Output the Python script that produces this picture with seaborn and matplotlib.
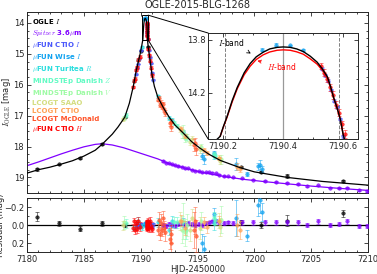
import numpy as np
import matplotlib
matplotlib.use("Agg")
import matplotlib.pyplot as plt
import seaborn as sns
from matplotlib.lines import Line2D
from matplotlib.patches import Rectangle, ConnectionPatch
from matplotlib.ticker import MultipleLocator

# ---- model curves ----
model_i_t = [7180.0, 7181.0, 7182.0, 7183.0, 7184.0, 7185.0, 7186.0, 7186.6, 7187.5, 7188.0,
             7188.6, 7189.0, 7189.35, 7189.6, 7189.95, 7190.1, 7190.19, 7190.2, 7190.213, 7190.23,
             7190.247, 7190.27, 7190.29, 7190.31, 7190.333, 7190.355, 7190.38, 7190.4, 7190.423, 7190.445,
             7190.467, 7190.49, 7190.513, 7190.53, 7190.547, 7190.557, 7190.567, 7190.58, 7190.59, 7190.6,
             7190.61, 7190.65, 7190.8, 7191.0, 7191.2, 7191.5, 7192.0, 7192.5, 7193.0, 7193.7,
             7194.5, 7195.2, 7196.0, 7197.0, 7198.7, 7200.0, 7202.9, 7206.0, 7210.0]
model_i_mag = [18.86, 18.75, 18.67, 18.57, 18.46, 18.31, 18.12, 17.93, 17.6, 17.37,
               17.05, 16.6, 16.05, 15.55, 15.0, 14.72, 14.53, 14.46, 14.38, 14.26,
               14.16, 14.05, 13.98, 13.93, 13.895, 13.87, 13.858, 13.855, 13.858, 13.87,
               13.89, 13.925, 13.97, 14.02, 14.08, 14.15, 14.23, 14.32, 14.4, 14.52,
               14.6, 14.75, 15.15, 15.7, 16.05, 16.4, 16.75, 17.05, 17.3, 17.55,
               17.85, 18.05, 18.25, 18.45, 18.68, 18.82, 19.0, 19.13, 19.25]

model_h_t = [7190.19, 7190.2, 7190.213, 7190.23, 7190.247, 7190.27, 7190.29, 7190.31, 7190.333, 7190.355,
             7190.38, 7190.4, 7190.423, 7190.445, 7190.467, 7190.49, 7190.513, 7190.53, 7190.547, 7190.557,
             7190.567, 7190.58, 7190.59, 7190.6]
model_h_mag = [14.53, 14.465, 14.385, 14.27, 14.17, 14.065, 14.0, 13.95, 13.915, 13.893,
               13.88, 13.877, 13.88, 13.892, 13.91, 13.945, 13.985, 14.03, 14.09, 14.155,
               14.235, 14.32, 14.4, 14.52]

spz_model_t = [7180.0, 7181.0, 7182.0, 7183.0, 7184.0, 7185.0, 7186.0, 7186.6, 7187.5, 7188.5,
               7189.5, 7190.5, 7191.5, 7192.5, 7193.5, 7194.5, 7195.5, 7197.0, 7199.0, 7201.0,
               7203.0, 7205.0, 7207.0, 7210.0]
spz_model_mag = [18.62, 18.5, 18.37, 18.24, 18.12, 18.01, 17.93, 17.91, 17.95, 18.04,
                 18.16, 18.28, 18.4, 18.55, 18.66, 18.76, 18.84, 18.95, 19.06, 19.14,
                 19.21, 19.28, 19.34, 19.42]

# ---- photometry: time, magnitude, error, residual ----
ogle_t = [7180.9, 7182.8, 7184.65, 7186.6, 7188.6, 7190.0, 7190.65, 7198.8, 7200.6, 7202.85, 7207.75]
ogle_mag = [18.74, 18.58, 18.38, 17.91, 17.06, 14.9, 14.77, 18.66, 18.83, 18.96, 19.12]
ogle_err = [0.05, 0.03, 0.03, 0.025, 0.02, 0.01, 0.01, 0.03, 0.03, 0.06, 0.04]
ogle_res = [-0.09, -0.02, 0.04, -0.02, 0.0, 0.0, 0.01, -0.03, 0.0, -0.05, -0.13]

spz_t = [7192.0, 7192.25, 7192.5, 7192.75, 7193.0, 7193.3, 7193.6, 7193.9, 7194.2, 7194.5,
         7194.8, 7195.1, 7195.4, 7195.7, 7196.0, 7196.3, 7196.6, 7196.9, 7197.3, 7197.7,
         7198.1, 7198.9, 7199.9, 7200.9, 7201.9, 7202.9, 7203.8, 7204.6, 7205.6, 7206.6,
         7207.4, 7208.1, 7209.2, 7209.9]
spz_mag = [18.47, 18.52, 18.54, 18.58, 18.61, 18.63, 18.65, 18.70, 18.71, 18.75,
           18.78, 18.80, 18.83, 18.83, 18.84, 18.86, 18.87, 18.91, 18.95, 18.96,
           18.99, 19.03, 19.07, 19.11, 19.14, 19.18, 19.21, 19.27, 19.26, 19.33,
           19.34, 19.33, 19.41, 19.43]
spz_err = [0.02] * 21 + [0.025] * 13
spz_res = [0.0, 0.01, -0.01, 0.0, 0.01, -0.01, -0.02, 0.0, -0.02, -0.01,
           0.0, -0.01, 0.0, -0.02, -0.03, -0.04, -0.05, -0.03, -0.02, -0.03,
           -0.02, -0.03, -0.03, -0.03, -0.03, -0.03, -0.03, 0.0, -0.04, 0.0,
           -0.01, -0.04, 0.01, 0.01]

ctioi_t = [7189.55, 7189.65, 7189.75, 7189.85, 7190.0, 7190.53, 7190.54, 7190.55, 7190.56, 7190.57,
           7190.58, 7190.59, 7190.6, 7190.7, 7190.78, 7190.86, 7190.95, 7191.05]
ctioi_mag = [15.66, 15.46, 15.33, 15.16, 14.89, 14.02, 14.07, 14.11, 14.18, 14.26,
             14.31, 14.4, 14.53, 14.88, 15.11, 15.3, 15.62, 15.84]
ctioi_err = [0.015] * 5 + [0.01] * 8 + [0.015] * 5
ctioi_res = [0.01, -0.01, 0.02, 0.0, -0.01, 0.0, 0.01, -0.01, 0.0, 0.01,
             -0.01, 0.0, 0.01, -0.02, 0.01, 0.0, 0.02, -0.01]

wise_t = [7190.33, 7190.377, 7190.423, 7190.467, 7193.7, 7195.38, 7195.55, 7196.4, 7198.35, 7199.35,
          7200.35, 7200.5, 7200.62]
wise_mag = [13.875, 13.838, 13.843, 13.88, 17.52, 18.3, 18.41, 18.21, 18.56, 18.9,
            18.64, 18.59, 18.73]
wise_err = [0.01, 0.012, 0.006, 0.008, 0.05, 0.1, 0.15, 0.07, 0.2, 0.06, 0.12, 0.15, 0.1]
wise_res = [0.0, -0.02, -0.02, -0.01, -0.03, 0.2, 0.27, -0.12, -0.08, 0.12, -0.22, -0.28, -0.15]

tur_t = [7189.45, 7189.8, 7190.08, 7191.5, 7192.45, 7192.75, 7196.45]
tur_mag = [15.88, 15.2, 14.78, 16.37, 17.08, 17.13, 18.32]
tur_err = [0.03, 0.04, 0.03, 0.05, 0.06, 0.06, 0.08]
tur_res = [0.03, -0.05, 0.02, -0.03, 0.05, -0.04, -0.02]

danz_t = [7188.7, 7192.95, 7193.15, 7194.0, 7196.4, 7196.55]
danz_mag = [16.98, 17.25, 17.32, 17.7, 18.25, 18.3]
danz_err = [0.05, 0.06, 0.06, 0.1, 0.07, 0.06]
danz_res = [-0.02, -0.03, -0.03, 0.05, -0.08, -0.06]

danv_t = [7188.5, 7193.6, 7193.75, 7193.9, 7194.1, 7195.3, 7197.1]
danv_mag = [17.07, 17.57, 17.51, 17.71, 17.7, 18.03, 18.41]
danv_err = [0.07, 0.15, 0.2, 0.15, 0.12, 0.1, 0.15]
danv_res = [-0.03, 0.05, -0.05, 0.08, 0.0, -0.05, -0.06]

saao_t = [7188.45, 7193.45, 7194.3, 7194.5, 7195.2, 7196.85, 7197.0]
saao_mag = [17.12, 17.42, 17.84, 17.77, 18.08, 18.37, 18.47]
saao_err = [0.05, 0.1, 0.12, 0.1, 0.12, 0.08, 0.1]
saao_res = [0.0, -0.04, 0.06, -0.08, 0.03, -0.05, 0.02]

lctio_t = [7193.55, 7193.9, 7195.6, 7195.8, 7196.9, 7198.5, 7198.7]
lctio_mag = [17.44, 17.66, 18.12, 18.22, 18.38, 18.65, 18.73]
lctio_err = [0.06, 0.08, 0.06, 0.07, 0.05, 0.12, 0.1]
lctio_res = [-0.05, 0.03, -0.03, 0.02, -0.05, 0.0, 0.05]

mcd_t = [7191.55, 7191.65, 7191.72, 7191.8, 7191.88, 7191.95, 7192.05, 7192.15, 7192.55, 7192.62,
         7192.7, 7194.7, 7194.8, 7194.9]
mcd_mag = [16.48, 16.44, 16.65, 16.58, 16.72, 16.64, 16.81, 16.92, 17.23, 17.22,
           17.36, 17.96, 17.89, 18.09]
mcd_err = [0.06, 0.08, 0.07, 0.1, 0.06, 0.08, 0.07, 0.1, 0.12, 0.1, 0.15, 0.2, 0.15, 0.18]
mcd_res = [0.05, -0.06, 0.1, -0.02, 0.06, -0.08, 0.03, 0.08, 0.15, 0.1, 0.2, 0.05, -0.05, 0.12]

ctioh_t = [7189.35, 7189.42, 7189.5, 7189.6, 7189.7, 7189.8, 7189.9, 7190.525, 7190.535, 7190.545,
           7190.555, 7190.565, 7190.575, 7190.585, 7190.595, 7190.605, 7190.68, 7190.75, 7190.82, 7190.9,
           7190.98]
ctioh_mag = [16.08, 15.87, 15.8, 15.53, 15.44, 15.19, 15.1, 14.0, 14.05, 14.1,
             14.16, 14.22, 14.29, 14.35, 14.44, 14.51, 14.85, 15.05, 15.22, 15.45,
             15.7]
ctioh_err = [0.04, 0.04, 0.05, 0.04, 0.05, 0.04, 0.05, 0.025, 0.025, 0.02,
             0.025, 0.03, 0.025, 0.03, 0.025, 0.03, 0.04, 0.05, 0.04, 0.05,
             0.04]
ctioh_res = [0.03, -0.04, 0.05, -0.02, 0.04, -0.05, 0.02, -0.03, 0.02, -0.04,
             0.01, 0.03, -0.02, 0.04, -0.01, 0.02, -0.04, 0.03, -0.05, 0.02,
             0.04]

labels = ["OGLE $I$", "$Spitzer$ 3.6$\\mu$m", "$\\mu$FUN CTIO $I$", "$\\mu$FUN Wise $I$",
          "$\\mu$FUN Turitea $R$", "MiNDSTEp Danish $Z$", "MiNDSTEp Danish $V$",
          "LCOGT SAAO", "LCOGT CTIO", "LCOGT McDonald", "$\\mu$FUN CTIO $H$"]

sns.set_style("ticks")
plt.rcParams["mathtext.fontset"] = "cm"
plt.rcParams["xtick.direction"] = "in"
plt.rcParams["ytick.direction"] = "in"

colors = ["black"] + [tuple(c) for c in plt.cm.rainbow(np.linspace(0, 1, 10))]

data = [
    (ogle_t, ogle_mag, ogle_err, ogle_res),
    (spz_t, spz_mag, spz_err, spz_res),
    (ctioi_t, ctioi_mag, ctioi_err, ctioi_res),
    (wise_t, wise_mag, wise_err, wise_res),
    (tur_t, tur_mag, tur_err, tur_res),
    (danz_t, danz_mag, danz_err, danz_res),
    (danv_t, danv_mag, danv_err, danv_res),
    (saao_t, saao_mag, saao_err, saao_res),
    (lctio_t, lctio_mag, lctio_err, lctio_res),
    (mcd_t, mcd_mag, mcd_err, mcd_res),
    (ctioh_t, ctioh_mag, ctioh_err, ctioh_res),
]

fig = plt.figure(figsize=(3.77, 2.74), dpi=100)
ax = fig.add_axes([0.0716, 0.296, 0.905, 0.66])
axr = fig.add_axes([0.0716, 0.08, 0.905, 0.197])
axins = ax.inset_axes([0.531, 0.298, 0.44, 0.586])


def points(a, t, y, e, c, ms=2.0):
    a.errorbar(t, y, yerr=e, fmt="none", ecolor=c, elinewidth=0.6,
               capsize=1.2, capthick=0.6, alpha=0.6, zorder=3)
    sns.scatterplot(x=t, y=y, color=c, s=ms ** 2 * 1.6, edgecolor=c,
                    linewidth=0.4, alpha=0.75, ax=a, zorder=3, legend=False)


for (t, m, e, r), c in zip(data, colors):
    points(ax, t, m, e, c)
    points(axins, t, m, e, c)
    points(axr, t, r, e, c)

sns.lineplot(x=model_i_t, y=model_i_mag, color="black", lw=0.9, ax=ax,
             estimator=None, sort=False, zorder=4)
sns.lineplot(x=spz_model_t, y=spz_model_mag, color=colors[1], lw=0.9, ax=ax,
             estimator=None, sort=False, zorder=2)
sns.lineplot(x=model_h_t, y=model_h_mag, color="red", lw=1.0, ax=axins,
             estimator=None, sort=False, zorder=4)
sns.lineplot(x=model_i_t, y=model_i_mag, color="black", lw=1.0, ax=axins,
             estimator=None, sort=False, zorder=5)

# main panel
ax.set_xlim(7180, 7210)
ax.set_ylim(19.5, 13.65)
ax.set_yticks([14, 15, 16, 17, 18, 19])
ax.xaxis.set_major_locator(MultipleLocator(5))
ax.xaxis.set_minor_locator(MultipleLocator(1))
ax.yaxis.set_minor_locator(MultipleLocator(0.25))
ax.tick_params(labelbottom=False)
ax.set_ylabel("$I_{\\rm OGLE}$ [mag]", fontsize=6)
ax.yaxis.set_label_coords(-0.04, 0.5)
ax.set_title("OGLE-2015-BLG-1268", fontsize=7, pad=3)

# residuals
axr.axhline(0, color="black", lw=0.9, zorder=2)
axr.set_xlim(7180, 7210)
axr.set_ylim(0.3, -0.3)
axr.set_yticks([-0.2, 0.0, 0.2])
axr.xaxis.set_major_locator(MultipleLocator(5))
axr.xaxis.set_minor_locator(MultipleLocator(1))
axr.yaxis.set_minor_locator(MultipleLocator(0.1))
axr.set_xlabel("HJD-2450000", fontsize=6, labelpad=0.5)
axr.set_ylabel("Residual (mag)", fontsize=6)
axr.yaxis.set_label_coords(-0.064, 0.5)

# inset
axins.set_xlim(7190.15, 7190.65)
axins.set_ylim(14.55, 13.75)
axins.set_xticks([7190.2, 7190.4, 7190.6])
axins.set_xticklabels(["7190.2", "7190.4", "7190.6"])
axins.set_yticks([13.8, 14.2])
axins.xaxis.set_minor_locator(MultipleLocator(0.05))
axins.yaxis.set_minor_locator(MultipleLocator(0.1))
axins.axvline(7190.4, color="0.6", lw=0.9, zorder=1)
axins.axvline(7190.207, color="0.5", lw=0.7, ls="--", zorder=1)
axins.axvline(7190.587, color="0.5", lw=0.7, ls="--", zorder=1)
axins.set_xlabel("")
axins.set_ylabel("")
axins.annotate("$I$-band", xy=(7190.3, 13.915), xytext=(7190.228, 13.82),
               fontsize=5.5, ha="center", va="center", color="black",
               arrowprops=dict(arrowstyle="->", color="black", lw=0.6))
axins.annotate("$H$-band", xy=(7190.305, 13.955), xytext=(7190.395, 14.0),
               fontsize=5.5, ha="center", va="center", color="red",
               arrowprops=dict(arrowstyle="->", color="red", lw=0.6))

for a in (ax, axr, axins):
    a.tick_params(which="both", top=True, right=True, labelsize=6, width=0.6, pad=2)
    a.tick_params(which="major", length=3)
    a.tick_params(which="minor", length=1.5)
    for s in a.spines.values():
        s.set_linewidth(0.7)

# zoom box and connectors
ax.add_patch(Rectangle((7190.15, 13.75), 0.5, 0.8, fill=False, ec="black", lw=0.7, zorder=6))
for xa, ya, xb, yb in [(7190.65, 13.75, 0, 1), (7190.65, 14.55, 0, 0)]:
    con = ConnectionPatch(xyA=(xa, ya), coordsA=ax.transData, xyB=(xb, yb),
                          coordsB=axins.transAxes, color="black", lw=0.7)
    fig.add_artist(con)

# text-only legend
handles = [Line2D([], [], ls="none") for _ in labels]
leg = ax.legend(handles, labels, loc="upper left", frameon=False, handlelength=0,
                handletextpad=0, labelspacing=0.3, borderaxespad=0.25,
                prop={"weight": "bold", "size": 5}, labelcolor=colors)

fig.savefig("out.png", dpi=100)
